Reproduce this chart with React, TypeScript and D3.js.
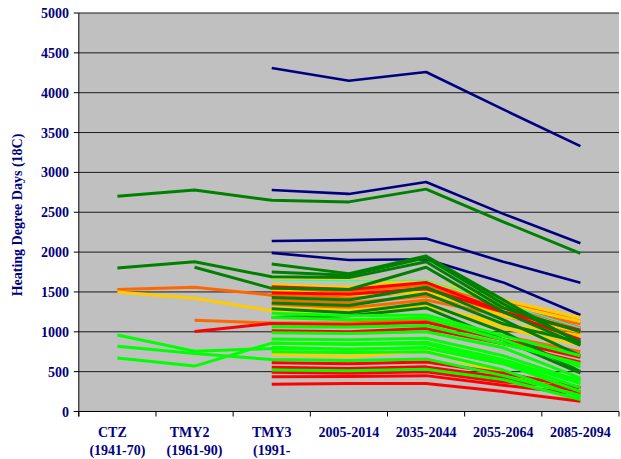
import React from "react";
import * as d3 from "d3";

const categories = ["CTZ|(1941-70)", "TMY2|(1961-90)", "TMY3|(1991-", "2005-2014", "2035-2044", "2055-2064", "2085-2094"];
const yTicks = [0, 500, 1000, 1500, 2000, 2500, 3000, 3500, 4000, 4500, 5000];

type V = (number | null)[];

const navySeries: V[] = [
  [null, null, 4310, 4150, 4260, 3790, 3330],
  [null, null, 2780, 2730, 2880, 2480, 2110],
  [null, null, 2140, 2150, 2170, 1880, 1615],
  [null, null, 1990, 1900, 1910, 1620, 1210],
];

const orangeSeries: V[] = [
  [1530, 1560, 1460, 1440, 1560, 1300, 1100],
  [null, 1145, 1110, 1110, 1150, 950, 750],
  [null, null, 1540, 1500, 1600, 1350, 1050],
  [null, null, 1400, 1360, 1450, 1250, 1040],
  [null, null, 1480, 1420, 1520, 1300, 1000],
  [null, null, 1350, 1300, 1400, 1200, 980],
  [null, null, 1560, 1520, 1580, 1380, 1130],
];

const yellowSeries: V[] = [
  [1500, 1420, 1265, 1250, 1320, 1100, 950],
  [null, null, 1660, 1640, 1640, 1400, 1180],
  [null, null, 1590, 1560, 1650, 1350, 1130],
  [null, null, 718, 690, 760, 480, 250],
  [null, null, 1520, 1460, 1500, 1200, 1000],
  [null, null, 1300, 1270, 1340, 1050, 830],
];

const redSeries: V[] = [
  [null, 1005, 1105, 1090, 1120, 900, 680],
  [null, null, 1566, 1530, 1620, 1250, 900],
  [null, null, 1491, 1470, 1540, 1250, 1020],
  [null, null, 1014, 1000, 1040, 850, 620],
  [null, null, 612, 600, 620, 480, 300],
  [null, null, 555, 540, 560, 430, 250],
  [null, null, 492, 480, 500, 370, 300],
  [null, null, 437, 440, 450, 330, 220],
  [null, null, 341, 350, 350, 250, 130],
];

const cyanSeries: V[] = [
  [null, null, 1650, 1640, 1650, 1350, 1050],
];

const darkGreenSeries: V[] = [
  [2700, 2780, 2650, 2630, 2790, 2380, 1985],
  [null, null, 1850, 1730, 1950, 1400, 850],
  [null, null, 1750, 1710, 1930, 1350, 870],
  [1800, 1880, 1690, 1680, 1880, 1300, 1000],
  [null, 1810, 1545, 1530, 1810, 1250, 830],
  [null, null, 1430, 1400, 1560, 1150, 700],
  [null, null, 1360, 1330, 1480, 1100, 870],
  [null, null, 1290, 1240, 1360, 1000, 500],
  [null, null, 1180, 1200, 1300, 900, 480],
];

const brightGreenSeries: V[] = [
  [960, 757, 790, 780, 800, 600, 400],
  [820, 728, 652, 640, 660, 450, 200],
  [670, 570, 858, 850, 870, 650, 350],
  [null, null, 1232, 1200, 1210, 950, 700],
  [null, null, 1064, 1060, 1080, 850, 600],
  [null, null, 989, 980, 1000, 800, 420],
  [null, null, 910, 900, 920, 700, 380],
  [null, null, 856, 840, 850, 620, 300],
  [null, null, 805, 780, 800, 600, 250],
  [null, null, 750, 740, 750, 520, 180],
  [null, null, 521, 510, 530, 400, 150],
  [null, null, 1180, 1150, 1170, 900, 560],
];

const groups: { data: V[]; color: string; width: number }[] = [
  { data: navySeries, color: "#000080", width: 2.6 },
  { data: orangeSeries, color: "#FF6600", width: 3 },
  { data: yellowSeries, color: "#FFCC00", width: 3 },
  { data: redSeries, color: "#FF0000", width: 3 },
  { data: cyanSeries, color: "#00FFFF", width: 1.2 },
  { data: darkGreenSeries, color: "#008000", width: 3 },
  { data: brightGreenSeries, color: "#00FF00", width: 3 },
];

const W = 621;
const H = 459;
const left = 78.8;
const right = 619;
const top = 13;
const bottom = 411.5;

export default function App() {
  const x = d3.scaleBand<string>().domain(categories).range([left, right]);
  const y = d3.scaleLinear().domain([0, 5000]).range([bottom, top]);
  const bw = x.bandwidth();
  const cx = (i: number) => (x(categories[i]) as number) + bw / 2;
  const line = d3
    .line<number | null>()
    .defined((d) => d != null)
    .x((_, i) => cx(i))
    .y((d) => y(d as number));

  const font = "'Liberation Serif', 'Times New Roman', serif";
  const navy = "#000080";

  return (
    <svg width={W} height={H} style={{ position: "absolute", left: 0, top: 0, background: "#fff" }}>
      <rect x={left} y={top} width={right - left} height={bottom - top} fill="#C0C0C0" />
      {yTicks.map((t) => (
        <g key={t}>
          {t > 0 && <line x1={left} x2={right} y1={y(t)} y2={y(t)} stroke="#1a1a1a" strokeWidth={1} />}
          <line x1={left - 5} x2={left} y1={y(t)} y2={y(t)} stroke="#000" strokeWidth={1} />
          <text x={69} y={y(t) + 5} textAnchor="end" fontFamily={font} fontWeight="bold" fontSize={14} fill={navy}>
            {t}
          </text>
        </g>
      ))}
      {groups.map((g, gi) =>
        g.data.map((s, si) => (
          <path key={`${gi}-${si}`} d={line(s) || ""} fill="none" stroke={g.color} strokeWidth={g.width} strokeLinejoin="round" />
        ))
      )}
      <line x1={left} x2={left} y1={top} y2={bottom + 5} stroke="#000" strokeWidth={1} />
      <line x1={left - 5} x2={right} y1={bottom} y2={bottom} stroke="#000" strokeWidth={1} />
      {categories.map((c, i) => (
        <line key={"t" + i} x1={x(c) as number} x2={x(c) as number} y1={bottom} y2={bottom + 5} stroke="#000" />
      ))}
      <line x1={right} x2={right} y1={bottom} y2={bottom + 5} stroke="#000" />
      {categories.map((c, i) => {
        const parts = c.split("|");
        const off = i < 2 ? -5 : 0;
        return (
          <g key={"l" + i} fontFamily={font} fontWeight="bold" fontSize={14} fill={navy} textAnchor="middle">
            <text x={cx(i) + off} y={437}>{parts[0]}</text>
            {parts[1] && <text x={cx(i)} y={455}>{parts[1]}</text>}
          </g>
        );
      })}
      <text
        transform={`translate(22, 215) rotate(-90)`}
        textAnchor="middle"
        fontFamily={font}
        fontWeight="bold"
        fontSize={14}
        fill={navy}
      >
        Heating Degree Days (18C)
      </text>
    </svg>
  );
}
